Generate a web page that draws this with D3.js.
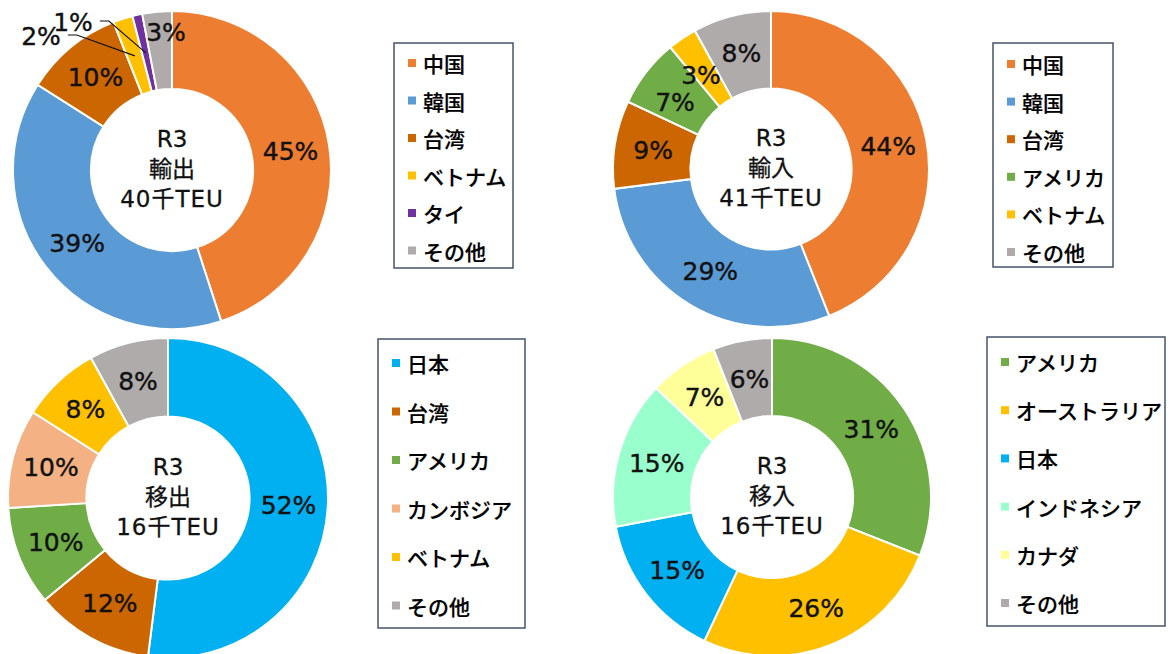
<!DOCTYPE html>
<html>
<head>
<meta charset="utf-8">
<script src="https://cdn.jsdelivr.net/npm/d3@7"></script>
<style>
  body { margin: 0; background: #fff; }
  svg { display: block; }
  .pct { font-family: "DejaVu Sans", "Noto Sans CJK JP", sans-serif; font-size: 25px; fill: #111; stroke: #111; stroke-width: 0.4px; }
  .center { font-family: "DejaVu Sans", "Noto Sans CJK JP", sans-serif; font-size: 23px; fill: #111; stroke: #111; stroke-width: 0.3px; }
  .legend text { font-family: "Noto Sans CJK JP", sans-serif; font-size: 21px; font-weight: 500; fill: #000; stroke: #000; stroke-width: 0.2px; }
</style>
</head>
<body>
<div id="chart"></div>
<script>
// R3 輸出
const exportCats = ["中国", "韓国", "台湾", "ベトナム", "タイ", "その他"];
const exportVals = [45, 39, 10, 2, 1, 3];
// R3 輸入
const importCats = ["中国", "韓国", "台湾", "アメリカ", "ベトナム", "その他"];
const importVals = [44, 29, 9, 7, 3, 8];
// R3 移出
const outCats = ["日本", "台湾", "アメリカ", "カンボジア", "ベトナム", "その他"];
const outVals = [52, 12, 10, 10, 8, 8];
// R3 移入
const inCats = ["アメリカ", "オーストラリア", "日本", "インドネシア", "カナダ", "その他"];
const inVals = [31, 26, 15, 15, 7, 6];

const titles = [
  ["R3", "輸出", "40千TEU"],
  ["R3", "輸入", "41千TEU"],
  ["R3", "移出", "16千TEU"],
  ["R3", "移入", "16千TEU"],
];

const colors = {
  "中国": "#ED7D31",
  "韓国": "#5B9BD5",
  "台湾": "#CC6600",
  "ベトナム": "#FFC000",
  "タイ": "#7030A0",
  "その他": "#AFABAB",
  "アメリカ": "#70AD47",
  "日本": "#00B0F0",
  "カンボジア": "#F4B183",
  "オーストラリア": "#FFC000",
  "インドネシア": "#99FFCC",
  "カナダ": "#FFFF99",
};

const width = 1173;
const height = 654;

const svg = d3.select("#chart")
  .append("svg")
  .attr("width", width)
  .attr("height", height);

// layout of each panel: donut centre, radius, legend box
const panels = [
  { cats: exportCats, vals: exportVals, cx: 172, cy: 170, r: 159,
    legend: { x: 394, y: 43, w: 119, h: 225, top: 63, step: 37.5 } },
  { cats: importCats, vals: importVals, cx: 771, cy: 169, r: 158,
    legend: { x: 993, y: 43, w: 120, h: 224, top: 64, step: 37.6 } },
  { cats: outCats, vals: outVals, cx: 168, cy: 498, r: 160,
    legend: { x: 378, y: 339, w: 147, h: 289, top: 363, step: 48.5 } },
  { cats: inCats, vals: inVals, cx: 772, cy: 497, r: 159,
    legend: { x: 987, y: 337, w: 178, h: 289, top: 362, step: 48.2 } },
];

// labels Excel moved off the ring (offset from donut centre)
const labelNudge = {
  0: {
    3: { dx: -131, dy: -134, leader: true },
    4: { dx: -99, dy: -148, leader: true },
    5: { dx: -6, dy: -138 },
  },
  1: {
    4: { dx: -70, dy: -94 },
    3: { dx: -96, dy: -67 },
  },
};

panels.forEach((p, pi) => {
  const data = p.cats.map((c, i) => ({ cat: c, value: p.vals[i] }));
  const inner = p.r * 0.51;

  const pie = d3.pie().sort(null).value((d) => d.value);
  const arc = d3.arc().innerRadius(inner).outerRadius(p.r);
  const labelArc = d3.arc().innerRadius((inner + p.r) / 2).outerRadius((inner + p.r) / 2);

  const g = svg.append("g").attr("transform", `translate(${p.cx},${p.cy})`);
  const arcs = pie(data);

  g.selectAll("path.slice")
    .data(arcs)
    .join("path")
    .attr("class", "slice")
    .attr("d", arc)
    .attr("fill", (d) => colors[d.data.cat])
    .attr("stroke", "#fff")
    .attr("stroke-width", 2);

  const nudges = labelNudge[pi] || {};

  arcs.forEach((a, i) => {
    const c = labelArc.centroid(a);
    const n = nudges[i];
    const pos = n ? [n.dx, n.dy] : c;
    const label = g.append("text")
      .attr("class", "pct")
      .attr("x", pos[0])
      .attr("y", pos[1])
      .attr("text-anchor", "middle")
      .attr("dominant-baseline", "central")
      .text(a.data.value + "%");

    if (n && n.leader) {
      const half = label.node().getBBox().width / 2;
      const sx = pos[0] + half + 7;
      const sy = pos[1] - 1;
      g.append("path")
        .attr("d", `M${sx},${sy} H${sx + 9} L${c[0]},${c[1]}`)
        .attr("fill", "none")
        .attr("stroke", "#111")
        .attr("stroke-width", 1.2);
    }
  });

  // centre caption
  g.append("text")
    .attr("class", "center")
    .attr("text-anchor", "middle")
    .selectAll("tspan")
    .data(titles[pi])
    .join("tspan")
    .attr("x", 0)
    .attr("y", (d, i) => -31 + i * 30)
    .attr("dominant-baseline", "central")
    .attr("letter-spacing", (d, i) => (i === 2 ? 1 : 0))
    .text((d) => d);

  // legend
  const L = p.legend;
  const lg = svg.append("g").attr("class", "legend");
  lg.append("rect")
    .attr("x", L.x)
    .attr("y", L.y)
    .attr("width", L.w)
    .attr("height", L.h)
    .attr("fill", "#fff")
    .attr("stroke", "#44546A")
    .attr("stroke-width", 1.5);

  const items = lg.selectAll("g.item")
    .data(p.cats)
    .join("g")
    .attr("class", "item")
    .attr("transform", (d, i) => `translate(${L.x},${L.top + i * L.step})`);

  items.append("rect")
    .attr("x", 14)
    .attr("y", -4)
    .attr("width", 8)
    .attr("height", 8)
    .attr("fill", (d) => colors[d]);

  items.append("text")
    .attr("x", 29)
    .attr("y", 0)
    .attr("dominant-baseline", "central")
    .text((d) => d);
});
</script>
</body>
</html>
